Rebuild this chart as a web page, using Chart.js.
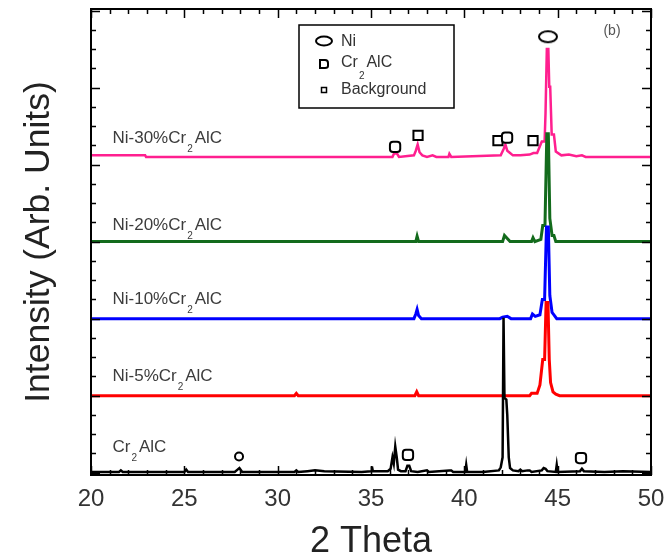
<!DOCTYPE html>
<html><head><meta charset="utf-8">
<script src="https://cdn.jsdelivr.net/npm/chart.js@4.4.1/dist/chart.umd.min.js"></script>
<style>html,body{margin:0;padding:0;background:#fff;}</style>
</head><body>
<canvas id="c" width="667" height="560" style="width:667px;height:560px;display:block"></canvas>
<script>
// ---- data: 2θ vs intensity above each pattern's baseline (arbitrary units) ----
const xTicks = [20, 25, 30, 35, 40, 45, 50];
const seriesNames = ['Cr2AlC', 'Ni-5%Cr2AlC', 'Ni-10%Cr2AlC', 'Ni-20%Cr2AlC', 'Ni-30%Cr2AlC'];
const baselines = [0, 1.0, 2.0, 3.0, 4.1];
const crAlC = [[20,0.01],[21.5,0.01],[21.6,0.03],[21.7,0.01],[25.0,0.01],[25.1,0.04],[25.2,0.01],[27.7,0.01],[27.85,0.04],[27.95,0.06],[28.1,0.01],[30.9,0.01],[31.0,0.03],[31.1,0.01],[31.6,0.02],[32.0,0.03],[32.5,0.02],[34.5,0.01],[35.0,0.02],[35.05,0.08],[35.1,0.02],[35.9,0.02],[36.05,0.05],[36.15,0.2],[36.22,0.12],[36.3,0.34],[36.38,0.2],[36.45,0.04],[36.6,0.02],[36.85,0.02],[36.95,0.09],[37.05,0.09],[37.15,0.02],[37.5,0.01],[38.0,0.03],[38.1,0.01],[39.2,0.03],[39.3,0.03],[39.4,0.01],[40.05,0.01],[40.1,0.1],[40.15,0.01],[41.0,0.01],[41.85,0.03],[41.95,0.07],[42.05,0.2],[42.1,2.01],[42.15,0.97],[42.25,0.95],[42.3,0.75],[42.38,0.2],[42.45,0.06],[42.6,0.03],[42.9,0.02],[43.0,0.04],[43.1,0.02],[43.4,0.03],[43.5,0.03],[43.6,0.01],[44.15,0.03],[44.25,0.06],[44.35,0.05],[44.45,0.02],[44.9,0.01],[44.95,0.1],[45.0,0.01],[46.2,0.02],[46.3,0.05],[46.4,0.02],[47.5,0.01],[48.5,0.02],[50,0.01]];
const ni5 = [[20,0],[30.9,0],[31.0,0.03],[31.1,0],[37.35,0],[37.45,0.05],[37.55,0],[43.5,0],[43.6,0.03],[43.9,0.03],[44.05,0.14],[44.2,0.47],[44.3,0.47],[44.38,1.21],[44.48,1.21],[44.55,0.47],[44.62,0.17],[44.75,0.05],[44.9,0.02],[45.1,0],[50,0]];
const ni10 = [[20,0],[37.3,0],[37.4,0.06],[37.47,0.12],[37.55,0.04],[37.7,0],[41.9,0],[42.05,0.02],[42.3,0.03],[42.5,0],[43.55,0],[43.65,0.06],[43.8,0.03],[44.05,0.05],[44.18,0.25],[44.3,0.25],[44.4,1.19],[44.5,1.19],[44.58,0.3],[44.7,0.08],[44.8,0.05],[44.95,0],[50,0]];
const ni20 = [[20,0],[37.4,0],[37.47,0.07],[37.55,0],[42.05,0],[42.15,0.08],[42.3,0.04],[42.45,0],[43.6,0],[43.68,0.05],[43.78,0],[44.1,0.03],[44.2,0.21],[44.32,0.21],[44.42,1.4],[44.5,1.4],[44.58,0.3],[44.7,0.08],[44.8,0.08],[44.9,0],[50,0]];
const ni30 = [[20,0.02],[22.9,0.02],[22.95,0],[36.15,0],[36.25,0.05],[36.4,0.04],[36.5,0],[37.3,0.02],[37.4,0.08],[37.5,0.16],[37.6,0.06],[37.75,0.02],[38.0,0],[38.3,0.02],[38.5,0],[39.15,0],[39.2,0.04],[39.3,0],[41.95,0.02],[42.1,0.1],[42.2,0.16],[42.3,0.08],[42.45,0.05],[42.6,0.02],[43.0,0.02],[43.5,0.03],[43.7,0.05],[43.9,0.05],[44.15,0.2],[44.3,0.2],[44.35,0.57],[44.42,1.4],[44.5,1.4],[44.55,0.91],[44.6,0.91],[44.68,0.29],[44.8,0.29],[44.9,0.07],[45.2,0.02],[45.6,0.03],[46.0,0.01],[46.3,0.02],[46.5,0],[50,0]];
// phase markers (2θ, plotted height)
const niMarks = [[44.48, 5.66]];
const niSmallMarks = [[27.93, 0.21]];
const crMarks = [[36.29, 4.23],[42.29, 4.35],[36.98, 0.23],[46.25, 0.19]];
const bgMarks = [[37.52, 4.38],[41.80, 4.31],[43.68, 4.31]];
const legendLabels = ['Ni', 'Cr2AlC', 'Background'];

// ---- styling ----
const patterns = [crAlC, ni5, ni10, ni20, ni30];
const colors = ['#000000', '#ff0000', '#0000ff', '#136b1c', '#ff1f8f'];
const widths = [2.5, 3, 3, 3, 2.5];

function ellipseImg(w, h, lw) {
  const cv = document.createElement('canvas');
  cv.width = w; cv.height = h;
  const g = cv.getContext('2d');
  g.lineWidth = lw; g.strokeStyle = '#000'; g.fillStyle = '#fff';
  g.beginPath(); g.ellipse(w/2, h/2, w/2 - lw, h/2 - lw, 0, 0, Math.PI*2); g.fill(); g.stroke();
  return cv;
}
const niImg = ellipseImg(22, 15, 2);

const toPts = (arr, off) => arr.map(p => ({x: p[0], y: p[1] + off}));
const datasets = [];
datasets.push({data: toPts(niMarks, 0), pointStyle: niImg, pointRadius: 8, showLine: false});
datasets.push({data: toPts(niSmallMarks, 0), pointStyle: 'circle', pointRadius: 4, borderColor: '#000', backgroundColor: '#fff', pointBorderWidth: 2, showLine: false});
datasets.push({data: toPts(crMarks, 0), pointStyle: 'rectRounded', pointRadius: 6, borderColor: '#000', backgroundColor: '#fff', pointBorderWidth: 2, showLine: false});
datasets.push({data: toPts(bgMarks, 0), pointStyle: 'rect', pointRadius: 6.5, borderColor: '#000', backgroundColor: '#fff', pointBorderWidth: 2, showLine: false});
patterns.forEach((arr, i) => datasets.push({
  data: toPts(arr, baselines[i]), showLine: true, pointRadius: 0,
  borderColor: colors[i], borderWidth: widths[i], tension: 0, borderJoinStyle: 'miter'
}));

const FONT = '"Liberation Sans", Arial, sans-serif';

// split "…Cr2AlC" into text before subscript, subscript, text after
function splitSub(name) {
  const i = name.indexOf('Cr2');
  return [name.slice(0, i + 2), name.slice(i + 2, i + 3), name.slice(i + 3)];
}

const decorPlugin = {
  id: 'decor',
  afterDraw(chart) {
    const {ctx, chartArea: a, scales: {x, y}} = chart;
    ctx.save();
    // inward ticks
    ctx.strokeStyle = '#000'; ctx.lineWidth = 1.5;
    for (let v = 20; v <= 50; v += 1) {
      const px = Math.round(x.getPixelForValue(v)) + 0.5;
      const L = (v % 5 === 0) ? 9 : 5;
      ctx.beginPath();
      ctx.moveTo(px, a.bottom); ctx.lineTo(px, a.bottom - L);
      ctx.moveTo(px, a.top); ctx.lineTo(px, a.top + L);
      ctx.stroke();
    }
    for (let k = 0; k <= 24; k++) {
      const v = k * 0.25;
      if (v > y.max) break;
      const py = Math.round(y.getPixelForValue(v)) + 0.5;
      const L = (k % 4 === 0) ? 9 : 5;
      ctx.beginPath();
      ctx.moveTo(a.left, py); ctx.lineTo(a.left + L, py);
      ctx.moveTo(a.right, py); ctx.lineTo(a.right - L, py);
      ctx.stroke();
    }
    // frame
    ctx.lineWidth = 2;
    ctx.strokeRect(a.left, a.top, a.right - a.left, a.bottom - a.top);

    // series labels
    const labelDy = [25, 19, 19, 16, 19];
    ctx.fillStyle = '#3c3c3c';
    ctx.textBaseline = 'middle';
    seriesNames.forEach((name, i) => {
      const parts = splitSub(name);
      let px = x.getPixelForValue(21.15);
      const py = y.getPixelForValue(baselines[i]) - labelDy[i];
      ctx.font = '17px ' + FONT;
      ctx.fillText(parts[0], px, py);
      px += ctx.measureText(parts[0]).width + 1;
      ctx.font = '10px ' + FONT;
      ctx.fillText(parts[1], px, py + 11);
      px += ctx.measureText(parts[1]).width + 2;
      ctx.font = '17px ' + FONT;
      ctx.fillText(parts[2], px, py);
    });

    // legend box
    ctx.lineWidth = 1.5; ctx.strokeStyle = '#000';
    ctx.strokeRect(299, 25, 155, 83);
    ctx.lineWidth = 2;
    ctx.beginPath(); ctx.ellipse(324, 41, 8, 4.5, 0, 0, Math.PI*2); ctx.stroke();
    ctx.beginPath();
    ctx.moveTo(320, 60); ctx.lineTo(325, 60); ctx.quadraticCurveTo(328, 60, 328, 63);
    ctx.lineTo(328, 66); ctx.quadraticCurveTo(328, 68, 325, 68); ctx.lineTo(320, 68); ctx.closePath(); ctx.stroke();
    ctx.lineWidth = 1.5;
    ctx.strokeRect(321.5, 87.5, 5, 5);
    ctx.fillStyle = '#333';
    ctx.font = '16px ' + FONT;
    ctx.fillText(legendLabels[0], 341, 42);
    const cp = splitSub(legendLabels[1]);
    ctx.fillText(cp[0], 341, 63);
    let lx = 341 + ctx.measureText(cp[0]).width + 1;
    ctx.font = '10px ' + FONT;
    ctx.fillText(cp[1], lx, 76);
    lx += ctx.measureText(cp[1]).width + 2;
    ctx.font = '16px ' + FONT;
    ctx.fillText(cp[2], lx, 63);
    ctx.fillText(legendLabels[2], 341, 90);

    // panel tag
    ctx.fillStyle = '#555';
    ctx.font = '14px ' + FONT;
    ctx.textAlign = 'center';
    ctx.fillText('(b)', 612, 31);
    ctx.restore();
  }
};

new Chart(document.getElementById('c'), {
  type: 'scatter',
  data: {datasets},
  options: {
    responsive: false,
    animation: false,
    events: [],
    layout: {padding: {top: 9, right: 16, left: 0, bottom: 0}},
    plugins: {legend: {display: false}, tooltip: {enabled: false}},
    scales: {
      x: {
        type: 'linear', min: 20, max: 50,
        afterBuildTicks: s => { s.ticks = xTicks.map(v => ({value: v})); },
        afterFit: s => { s.height = 85; s.paddingLeft = 0; s.paddingRight = 0; },
        grid: {display: false, drawTicks: false},
        border: {display: false},
        ticks: {padding: 10, color: '#333', font: {family: FONT, size: 24}, maxRotation: 0},
        title: {display: true, text: '2 Theta', color: '#222', font: {family: FONT, size: 36, lineHeight: 1}, padding: {top: 0, bottom: 0}}
      },
      y: {
        type: 'linear', min: -0.03, max: 6.02,
        afterFit: s => { s.width = 91; s.paddingTop = 0; s.paddingBottom = 0; },
        grid: {display: false, drawTicks: false},
        border: {display: false},
        ticks: {display: false},
        title: {display: true, text: 'Intensity (Arb. Units)', color: '#222', font: {family: FONT, size: 35.5, lineHeight: 1}, padding: {top: 21, bottom: 0}}
      }
    }
  },
  plugins: [decorPlugin]
});
</script>
</body></html>
